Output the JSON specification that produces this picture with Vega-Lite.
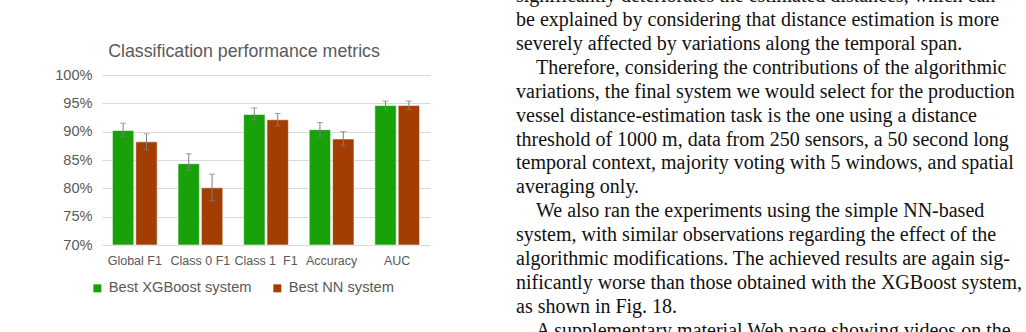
{
  "$schema": "https://vega.github.io/schema/vega-lite/v6.json",
  "autosize": {"type": "none"},
  "padding": {"left": 102, "top": 75, "right": 924, "bottom": 257},
  "bounds": "flush",
  "spacing": 86,
  "background": "white",
  "config": {
    "view": {"stroke": null},
    "font": "Liberation Sans",
    "axisY": {"tickCount": 10}
  },
  "hconcat": [
    {
      "width": 328,
      "height": 170,
      "title": {
        "text": "Classification performance metrics",
        "fontSize": 17.8,
        "fontWeight": "normal",
        "color": "#595959",
        "font": "Liberation Sans",
        "anchor": "middle",
        "frame": "group",
        "dx": -22,
        "offset": 6
      },
      "data": {
        "values": [
          {"metric": "Global F1", "system": "Best XGBoost system", "value": 0.902, "lo": 0.891, "hi": 0.915},
          {"metric": "Global F1", "system": "Best NN system", "value": 0.882, "lo": 0.868, "hi": 0.896},
          {"metric": "Class 0 F1", "system": "Best XGBoost system", "value": 0.8435, "lo": 0.832, "hi": 0.861},
          {"metric": "Class 0 F1", "system": "Best NN system", "value": 0.801, "lo": 0.778, "hi": 0.825},
          {"metric": "Class 1  F1", "system": "Best XGBoost system", "value": 0.9305, "lo": 0.921, "hi": 0.942},
          {"metric": "Class 1  F1", "system": "Best NN system", "value": 0.921, "lo": 0.9105, "hi": 0.932},
          {"metric": "Accuracy", "system": "Best XGBoost system", "value": 0.9035, "lo": 0.892, "hi": 0.916},
          {"metric": "Accuracy", "system": "Best NN system", "value": 0.887, "lo": 0.876, "hi": 0.900},
          {"metric": "AUC", "system": "Best XGBoost system", "value": 0.946, "lo": 0.939, "hi": 0.954},
          {"metric": "AUC", "system": "Best NN system", "value": 0.946, "lo": 0.939, "hi": 0.954}
        ]
      },
      "encoding": {
        "x": {
          "field": "metric",
          "type": "nominal",
          "sort": ["Global F1", "Class 0 F1", "Class 1  F1", "Accuracy", "AUC"],
          "scale": {"paddingInner": 0.318, "paddingOuter": 0.159},
          "axis": {
            "title": null,
            "labelAngle": 0,
            "ticks": false,
            "domain": false,
            "labelFontSize": 12.5,
            "labelColor": "#595959",
            "labelPadding": 9,
            "labelFont": "Liberation Sans",
            "labelExpr": "replace(datum.label, '1  F1', '1\u00a0\u00a0F1')"
          }
        },
        "xOffset": {
          "field": "system",
          "type": "nominal",
          "sort": ["Best XGBoost system", "Best NN system"],
          "scale": {"paddingInner": 0.086}
        }
      },
      "layer": [
        {
          "mark": {"type": "bar", "stroke": "white", "strokeWidth": 1, "strokeOpacity": 0.55},
          "encoding": {
            "y": {
              "field": "value",
              "type": "quantitative",
              "scale": {"domain": [0.7, 1.0], "zero": false, "nice": false},
              "axis": {
                "title": null,
                "values": [0.7, 0.75, 0.8, 0.85, 0.9, 0.95, 1.0],
                "tickCount": 10,
                "labelOverlap": false,
                "format": ".0%",
                "domain": false,
                "ticks": false,
                "gridColor": "#d9d9d9",
                "gridWidth": 1,
                "labelFontSize": 14.6,
                "labelColor": "#595959",
                "labelPadding": 10,
                "labelFont": "Liberation Sans"
              }
            },
            "y2": {"datum": 0.7},
            "color": {
              "field": "system",
              "type": "nominal",
              "scale": {"domain": ["Best XGBoost system", "Best NN system"], "range": ["#19a10a", "#a33d02"]},
              "legend": {
                "title": null,
                "orient": "none",
                "direction": "horizontal",
                "columns": 2,
                "legendX": -12,
                "legendY": 205.5,
                "symbolType": "square",
                "symbolSize": 64,
                "symbolStrokeWidth": 0,
                "labelFontSize": 14.7,
                "labelColor": "#595959",
                "labelFont": "Liberation Sans",
                "labelOffset": 4,
                "columnPadding": 18,
                "padding": 0
              }
            }
          }
        },
        {
          "mark": {"type": "rule", "color": "#7f7f7f", "strokeWidth": 1},
          "encoding": {
            "y": {"field": "lo", "type": "quantitative"},
            "y2": {"field": "hi"}
          }
        },
        {
          "mark": {"type": "tick", "orient": "horizontal", "color": "#7f7f7f", "size": 6, "thickness": 1},
          "encoding": {
            "y": {"field": "lo", "type": "quantitative"}
          }
        },
        {
          "mark": {"type": "tick", "orient": "horizontal", "color": "#7f7f7f", "size": 6, "thickness": 1},
          "encoding": {
            "y": {"field": "hi", "type": "quantitative"}
          }
        }
      ]
    },
    {
      "width": 500,
      "height": 170,
      "data": {
        "values": [
          {"line": 0, "text": "significantly deteriorates the estimated distances, which can"},
          {"line": 1, "text": "be explained by considering that distance estimation is more"},
          {"line": 2, "text": "severely affected by variations along the temporal span."},
          {"line": 3, "text": "\u200b\u2003Therefore, considering the contributions of the algorithmic"},
          {"line": 4, "text": "variations, the final system we would select for the production"},
          {"line": 5, "text": "vessel distance-estimation task is the one using a distance"},
          {"line": 6, "text": "threshold of 1000 m, data from 250 sensors, a 50 second long"},
          {"line": 7, "text": "temporal context, majority voting with 5 windows, and spatial"},
          {"line": 8, "text": "averaging only."},
          {"line": 9, "text": "\u200b\u2003We also ran the experiments using the simple NN-based"},
          {"line": 10, "text": "system, with similar observations regarding the effect of the"},
          {"line": 11, "text": "algorithmic modifications. The achieved results are again sig-"},
          {"line": 12, "text": "nificantly worse than those obtained with the XGBoost system,"},
          {"line": 13, "text": "as shown in Fig. 18."},
          {"line": 14, "text": "\u200b\u2003A supplementary material Web page showing videos on the"}
        ]
      },
      "mark": {"type": "text", "align": "left", "baseline": "alphabetic", "font": "Liberation Serif", "fontSize": 20, "color": "#111111", "clip": false},
      "encoding": {
        "x": {"datum": 0, "type": "quantitative", "scale": {"domain": [0, 1]}, "axis": null},
        "y": {"field": "line", "type": "quantitative", "scale": {"domain": [3.05, 10.163], "reverse": true, "zero": false, "nice": false}, "axis": null},
        "text": {"field": "text"}
      }
    }
  ]
}
